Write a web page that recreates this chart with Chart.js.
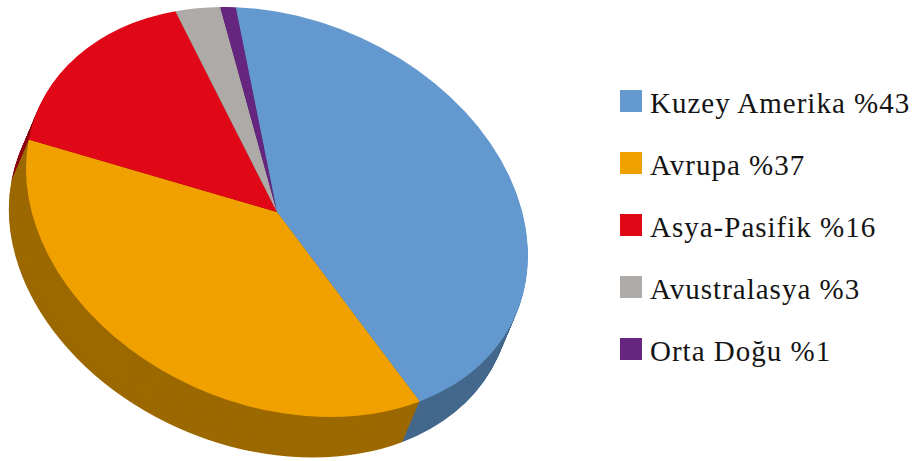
<!DOCTYPE html>
<html lang="tr">
<head>
<meta charset="utf-8">
<title>Bölgelere göre dağılım</title>
<script src="https://cdn.jsdelivr.net/npm/chart.js@4/dist/chart.umd.min.js"></script>
<style>
    html, body { margin: 0; padding: 0; background: #ffffff; }
    #wrap { position: relative; width: 916px; height: 461px; overflow: hidden; }
    #pieBox { position: absolute; left: 0; top: 0; width: 554px; height: 461px; }
    #legend {
        position: absolute; left: 620px; top: 89px;
        font-family: "Liberation Serif", "Times New Roman", serif;
        font-size: 29px; line-height: 29px; letter-spacing: 1px; color: #141414;
    }
    #legend .item { display: flex; align-items: flex-start; height: 62px; white-space: nowrap; }
    #legend .box { width: 22px; height: 22px; margin: 1px 8px 0 0; flex: none; }
</style>
</head>
<body>
<div id="wrap">
    <div id="pieBox"><canvas id="regionPie"></canvas></div>
    <div id="legend"></div>
</div>
<script>
const regions = ['Kuzey Amerika', 'Avrupa', 'Asya-Pasifik', 'Avustralasya', 'Orta Doğu'];
const shares = [43, 37, 16, 3, 1];

const topColors = ['#6399ce', '#f0a100', '#e00817', '#adaaa7', '#66267f'];
const sideColors = ['#43688c', '#9c6900', '#8f0510', '#75736f', '#431955'];

// disc tilt: rotation of the ellipse, vertical squash, thickness of the rim
const TILT = 23;
const SQUASH = 0.744;
const DEPTH = 44;

function applyTilt(ctx, cx, cy, t) {
    ctx.translate(cx, cy);
    ctx.rotate(t);
    ctx.scale(1, SQUASH);
    ctx.translate(-cx, -cy);
}

// draws the rim under the slices and tilts the slices themselves
const tiltPlugin = {
    id: 'tilt3d',
    beforeDatasetsDraw(chart) {
        let ctx = chart.ctx;
        let arcs = chart.getDatasetMeta(0).data;
        let cx = arcs[0].x, cy = arcs[0].y;
        let t = TILT * Math.PI / 180;
        ctx.save();
        for (let i = DEPTH; i >= 1; i--) {
            ctx.save();
            ctx.translate(-Math.sin(t) * i, Math.cos(t) * i);
            applyTilt(ctx, cx, cy, t);
            arcs.forEach((arc, k) => {
                ctx.beginPath();
                ctx.moveTo(cx, cy);
                ctx.arc(cx, cy, arc.outerRadius, arc.startAngle, arc.endAngle);
                ctx.closePath();
                ctx.fillStyle = sideColors[k];
                ctx.fill();
            });
            ctx.restore();
        }
        applyTilt(ctx, cx, cy, t);
    },
    afterDatasetsDraw(chart) {
        chart.ctx.restore();
    }
};

let chart = new Chart(document.getElementById('regionPie').getContext('2d'), {
    type: 'pie',
    data: {
        labels: regions.map((r, i) => r + ' %' + shares[i]),
        datasets: [{
            data: shares,
            backgroundColor: topColors,
            borderWidth: 0,
            clip: false,
        }]
    },
    options: {
        responsive: true,
        maintainAspectRatio: false,
        animation: false,
        rotation: -27,
        radius: 260,
        layout: { padding: { bottom: 37 } },
        plugins: {
            legend: { display: false },
            tooltip: { enabled: false },
        },
    },
    plugins: [tiltPlugin]
});

// legend built from the chart's own label items
let legendEl = document.getElementById('legend');
chart.options.plugins.legend.labels.generateLabels(chart).forEach(item => {
    let row = document.createElement('div');
    row.className = 'item';
    let box = document.createElement('span');
    box.className = 'box';
    box.style.background = item.fillStyle;
    let txt = document.createElement('span');
    txt.textContent = item.text;
    row.appendChild(box);
    row.appendChild(txt);
    legendEl.appendChild(row);
});
</script>
</body>
</html>
